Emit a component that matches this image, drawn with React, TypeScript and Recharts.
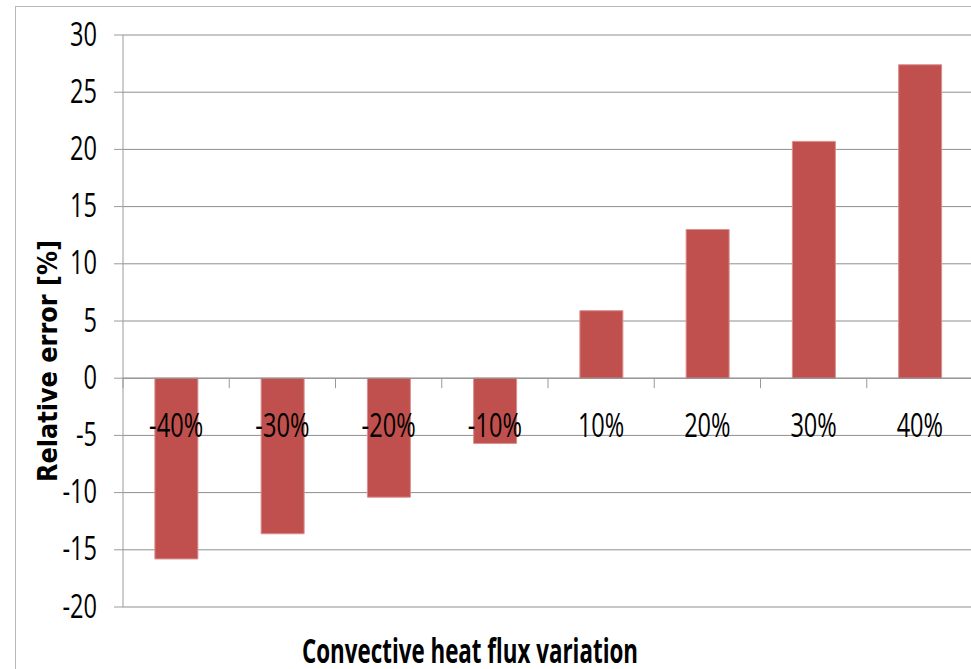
import React from 'react';
import { BarChart, Bar, XAxis, YAxis, CartesianGrid, ReferenceLine } from 'recharts';

// Relative error for each convective heat flux variation
const categories = ['-40%', '-30%', '-20%', '-10%', '10%', '20%', '30%', '40%'];
const relativeError = [-15.8, -13.6, -10.4, -5.7, 5.9, 13.0, 20.7, 27.4];
const yTicks = [-20, -15, -10, -5, 0, 5, 10, 15, 20, 25, 30];

const data = categories.map((c, i) => ({ variation: c, error: relativeError[i] }));

const CHART_W = 990;
const CHART_H = 669;
const MARGIN = { top: 35, right: 17, left: 0, bottom: 0 };
const X_AXIS_H = 62;
const Y_AXIS_W = 123;
const PLOT_H = CHART_H - MARGIN.top - MARGIN.bottom - X_AXIS_H;
const PLOT_W = CHART_W - MARGIN.left - MARGIN.right - Y_AXIS_W;
const Y_MIN = -20;
const Y_MAX = 30;
const ZERO_Y = MARGIN.top + (Y_MAX / (Y_MAX - Y_MIN)) * PLOT_H;
const BAND = PLOT_W / categories.length;

const GRID = '#8f8f8f';
const AXIS = '#9a9a9a';
const BAR = '#C0504D';
const LABEL_FONT = '"Open Sans", "Noto Sans", sans-serif';
const NARROW = 'scale(0.715,1)';

// Category labels sit just under the zero line, with boundary ticks on it
const CategoryTick = (props: any) => {
  const { x, payload } = props;
  const left = x - BAND / 2;
  return (
    <g>
      <line x1={left} x2={left} y1={ZERO_Y} y2={ZERO_Y + 10} stroke={AXIS} strokeWidth={1} />
      <g transform={`translate(${x},${ZERO_Y + 59})`}>
        <text textAnchor="middle" transform={NARROW} fontFamily={LABEL_FONT} fontSize={33} fill="#000">
          {payload.value}
        </text>
      </g>
    </g>
  );
};

const ValueTick = (props: any) => {
  const { y, payload } = props;
  return (
    <g transform={`translate(97,${y + 10.5})`}>
      <text textAnchor="end" transform={NARROW} fontFamily={LABEL_FONT} fontSize={33} fill="#000">
        {payload.value}
      </text>
    </g>
  );
};

const XTitle = () => (
  <text
    x={302}
    y={662.5}
    textAnchor="start"
    textLength={336}
    lengthAdjust="spacingAndGlyphs"
    fontFamily={LABEL_FONT}
    fontWeight={700}
    fontSize={33.5}
    fill="#000"
  >
    Convective heat flux variation
  </text>
);

const YTitle = () => (
  <text
    transform="translate(57,482) rotate(-90)"
    textAnchor="start"
    textLength={242}
    lengthAdjust="spacingAndGlyphs"
    fontFamily="DejaVu Sans"
    fontWeight={700}
    fontSize={26}
    fill="#000"
  >
    Relative error [%]
  </text>
);

export default function App() {
  return (
    <div
      style={{
        position: 'absolute',
        left: 0,
        top: 0,
        width: 971,
        height: 669,
        overflow: 'hidden',
        background: '#fff',
      }}
    >
      <div
        style={{
          position: 'absolute',
          left: 15,
          top: 6,
          width: 1000,
          height: 700,
          border: '1px solid #b8b8b8',
          boxSizing: 'border-box',
        }}
      />
      <div style={{ position: 'absolute', left: 0, top: 0 }}>
        <BarChart
          width={CHART_W}
          height={CHART_H}
          data={data}
          margin={MARGIN}
          barCategoryGap="30%"
        >
          <CartesianGrid horizontal vertical={false} stroke={GRID} strokeWidth={1} />
          <XAxis
            dataKey="variation"
            height={X_AXIS_H}
            axisLine={false}
            tickLine={false}
            interval={0}
            tick={<CategoryTick />}
            label={<XTitle />}
          />
          <YAxis
            width={Y_AXIS_W}
            domain={[Y_MIN, Y_MAX]}
            ticks={yTicks}
            interval={0}
            allowDataOverflow
            axisLine={{ stroke: AXIS, strokeWidth: 1 }}
            tickLine={{ stroke: AXIS, strokeWidth: 1 }}
            tickSize={9}
            tick={<ValueTick />}
            label={<YTitle />}
          />
          <Bar
            dataKey="error"
            fill={BAR}
            stroke="#d98f8d"
            strokeWidth={1}
            isAnimationActive={false}
          />
          <ReferenceLine y={0} stroke={GRID} strokeWidth={1} />
        </BarChart>
      </div>
    </div>
  );
}
